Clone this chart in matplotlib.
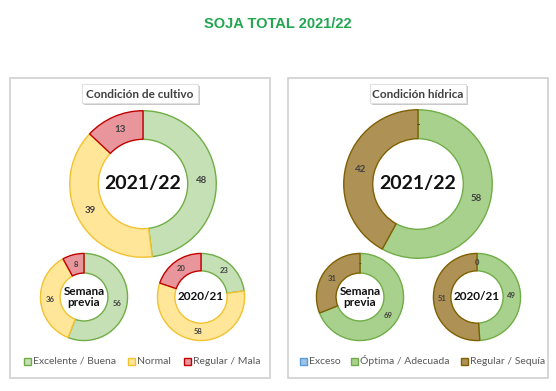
import numpy as np
import matplotlib.pyplot as plt
from matplotlib.patches import Rectangle

W, H = 556, 391

title = "SOJA TOTAL 2021/22"

# Condición de cultivo
cult_names = ["Excelente / Buena", "Normal", "Regular / Mala"]
cult_actual = [48, 39, 13]
cult_previa = [56, 36, 8]
cult_anterior = [23, 58, 20]
cult_fill = ["#c5e0b4", "#ffe699", "#e8959b"]
cult_edge = ["#70ad47", "#f2c230", "#c00000"]

# Condición hídrica
hid_names = ["Exceso", "Óptima / Adecuada", "Regular / Sequía"]
hid_actual = [0, 58, 42]
hid_previa = [0, 69, 31]
hid_anterior = [0, 49, 51]
hid_zero_lbl = ["-", "-", "0"]
hid_fill = ["#9dc3e6", "#a9d18e", "#ae9155"]
hid_edge = ["#5b9bd5", "#70ad47", "#7f6000"]

plt.rcParams['font.family'] = ['Lato', 'DejaVu Sans']

fig = plt.figure(figsize=(W / 100, H / 100), dpi=100)
fig.patch.set_facecolor("white")

# background axes in pixel coords
bg = fig.add_axes([0, 0, 1, 1])
bg.set_xlim(0, W)
bg.set_ylim(H, 0)
bg.axis("off")

bg.text(W / 2, 24, title, ha="center", va="center", fontsize=10.5,
        fontweight="bold", color="#22a650", family="Liberation Sans")


def panel(x0, x1, head, hx, hw):
    bg.add_patch(Rectangle((x0, 78), x1 - x0, 300, fill=False,
                           edgecolor="#d0d0d0", lw=1.2))
    bg.add_patch(Rectangle((hx - hw / 2 + 2, 86), hw, 19, facecolor="#c8c8c8",
                           edgecolor="none"))
    bg.add_patch(Rectangle((hx - hw / 2, 84), hw, 19, facecolor="white",
                           edgecolor="#e0e0e0", lw=0.8))
    bg.text(hx, 94, head, ha="center", va="center", fontsize=8.5,
            fontweight="bold", color="#404040")


panel(10, 270, "Condición de cultivo", 140, 116)
panel(288, 548, "Condición hídrica", 418, 96)


def donut(cx, cy, R, vals, fills, edges, center, csize, lsize, ratio,
          labels=None):
    ax = fig.add_axes([(cx - R) / W, 1 - (cy + R) / H, 2 * R / W, 2 * R / H])
    wedges, _ = ax.pie(vals, radius=1, startangle=90, counterclock=False,
                       wedgeprops=dict(width=1 - ratio, linewidth=1.0))
    ax.set_xlim(-1.01, 1.01)
    ax.set_ylim(-1.01, 1.01)
    ax.set_aspect("equal")
    ax.axis("off")
    for w, f, e in zip(wedges, fills, edges):
        w.set_facecolor(f)
        w.set_edgecolor(e)
    tot = sum(vals)
    cum = 0
    rm = (1 + ratio) / 2
    for i, v in enumerate(vals):
        ang = np.deg2rad(90 - (cum + v / 2) / tot * 360)
        cum += v
        txt = str(v) if v > 0 else (labels[i] if labels else "")
        if txt:
            ax.text(rm * np.cos(ang), rm * np.sin(ang), txt, ha="center",
                    va="center", fontsize=lsize, fontweight="bold",
                    color="#404040")
    ax.text(0, 0, center, ha="center", va="center", fontsize=csize,
            fontweight="bold", color="#111111", linespacing=1.0)


# left panel
donut(143, 184, 74, cult_actual, cult_fill, cult_edge, "2021/22", 14, 7, 0.61)
donut(84, 297, 44, cult_previa, cult_fill, cult_edge, "Semana\nprevia", 8.5, 5.5, 0.55)
donut(201, 297, 44, cult_anterior, cult_fill, cult_edge, "2020/21", 8.5, 5.5, 0.6)

# right panel
donut(418, 184, 75, hid_actual, hid_fill, hid_edge, "2021/22", 14, 7, 0.61,
      [hid_zero_lbl[0]] * 3)
donut(360, 297, 44, hid_previa, hid_fill, hid_edge, "Semana\nprevia", 8.5, 5.5, 0.55,
      [hid_zero_lbl[1]] * 3)
donut(477, 297, 44, hid_anterior, hid_fill, hid_edge, "2020/21", 8.5, 5.5, 0.6,
      [hid_zero_lbl[2]] * 3)


def legend(items, fills, edges, xs, y=361):
    for name, f, e, x in zip(items, fills, edges, xs):
        bg.add_patch(Rectangle((x - 3.5, y - 3.5), 7, 7, facecolor=f,
                               edgecolor=e, lw=1))
        bg.text(x + 6, y, name, ha="left", va="center", fontsize=7.5,
                color="#595959")


legend(cult_names, cult_fill, cult_edge, [27, 131, 187])
legend(hid_names, hid_fill, hid_edge, [303, 354, 464])

fig.savefig("out.png", dpi=100, facecolor="white")
